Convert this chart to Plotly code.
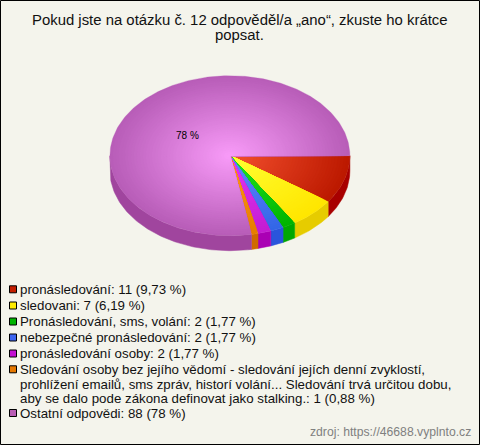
import math
import plotly.graph_objects as go

labels = ["pronásledování", "sledovani", "Pronásledování, sms, volání", "nebezpečné pronásledování",
          "pronásledování osoby",
          "Sledování osoby bez jejího vědomí - sledování jejích denní zvyklostí,<br>prohlížení emailů, sms zpráv, historí volání... Sledování trvá určitou dobu,<br>aby se dalo pode zákona definovat jako stalking.",
          "Ostatní odpovědi"]
values = [11, 7, 2, 2, 2, 1, 88]
percent_text = ["9,73 %", "6,19 %", "1,77 %", "1,77 %", "1,77 %", "0,88 %", "78 %"]
center_colors = ["#F5512F", "#FFFF33", "#22E622", "#6488FF", "#E639F2", "#FF9A1E", "#F99CF9"]
edge_colors = ["#BC1900", "#FFE600", "#00B400", "#3366E6", "#C31CD2", "#E67D00", "#B85DB8"]
side_colors = ["#A80000", "#E6CC00", "#00A800", "#2A55DC", "#AA00B4", "#D06A00", "#A0459E"]
swatch_colors = ["#C41E00", "#FFEB00", "#00B400", "#3C64F0", "#C30FD2", "#E67800", "#B85CB4"]
title_lines = ["Pokud jste na otázku č. 12 odpověděl/a „ano“, zkuste ho krátce", "popsat."]
source_text = "zdroj: https://46688.vyplnto.cz"

W, H = 480, 445
BG = "#F4F4EC"
CX, CY, RX, RY, DEPTH = 229.9, 155.7, 120, 80, 15
LAYERS = 40
FONT = "Liberation Sans, Arial, sans-serif"


def hex2rgb(c):
    return tuple(int(c[i:i + 2], 16) for i in (1, 3, 5))


def mix(a, b, t):
    ca, cb = hex2rgb(a), hex2rgb(b)
    return "rgb(%d,%d,%d)" % tuple(round(x + (y - x) * t) for x, y in zip(ca, cb))


def arc(a0, a1, r=1.0, dy=0.0):
    n = max(2, int(abs(a1 - a0) / (math.pi / 180)) + 1)
    pts = [a0 + (a1 - a0) * i / n for i in range(n + 1)]
    return ([CX + RX * r * math.cos(p) for p in pts], [CY + dy + RY * r * math.sin(p) for p in pts])


fig = go.Figure()
total = sum(values)
bounds = [0.0]
for v in values:
    bounds.append(bounds[-1] + v / total * 2 * math.pi)

# side wall (only the front half of the disc is visible)
for i, v in enumerate(values):
    a0, a1 = bounds[i], min(bounds[i + 1], math.pi)
    if a0 >= math.pi:
        continue
    xt, yt = arc(a0, a1)
    xb, yb = arc(a1, a0, dy=DEPTH)
    fig.add_trace(go.Scatter(x=xt + xb + xt[:1], y=yt + yb + yt[:1], mode="lines", fill="toself",
                             fillcolor=side_colors[i], line=dict(width=0.5, color=side_colors[i]),
                             hoverinfo="skip", showlegend=False))

# top face: stacked shrinking wedges build the radial gradient
for i, v in enumerate(values):
    for k in range(LAYERS):
        r = 1 - k / LAYERS
        col = mix(center_colors[i], edge_colors[i], r)
        xa, ya = arc(bounds[i], bounds[i + 1], r=r)
        fig.add_trace(go.Scatter(x=[CX] + xa + [CX], y=[CY] + ya + [CY], mode="lines", fill="toself",
                                 fillcolor=col, line=dict(width=0.3, color=col),
                                 hoverinfo="skip", showlegend=False))

ann = []


def text(x, y, s, size=13.3, color="#111111", anchor="left"):
    ann.append(dict(x=x, y=y, xref="x", yref="y", text=s, showarrow=False, xanchor=anchor, yanchor="middle",
                    align="left", font=dict(family=FONT, size=size, color=color), xshift=0, yshift=0,
                    borderpad=0, borderwidth=0))


text(239.5, 20, title_lines[0], size=14.9, anchor="center")
text(239.5, 35, title_lines[1], size=14.9, anchor="center")
text(187.5, 135, percent_text[6], size=10, color="#000000", anchor="center")

row_y = [289.3, 305.5, 321.5, 337.5, 353.5, 369.3, 384, 398, 413]
shapes = [dict(type="rect", x0=0.5, y0=0.5, x1=W - 0.5, y1=H - 0.5, line=dict(color="#000000", width=1),
               fillcolor="rgba(0,0,0,0)", layer="above")]
row = 0
for i, lab in enumerate(labels):
    parts = lab.split("<br>")
    shapes.append(dict(type="rect", x0=9.5, x1=16.5, y0=row_y[row] - 3.5, y1=row_y[row] + 3.5,
                       fillcolor=swatch_colors[i], line=dict(color="#000000", width=1), layer="above"))
    for j, part in enumerate(parts):
        s = part
        if j == len(parts) - 1:
            s += ": %d (%s)" % (values[i], percent_text[i])
        text(20, row_y[row], s)
        row += 1

text(470.5, 432, source_text, size=12.2, color="#808080", anchor="right")

fig.update_layout(
    width=W, height=H, margin=dict(l=0, r=0, t=0, b=0, pad=0), paper_bgcolor=BG, plot_bgcolor=BG,
    showlegend=False, annotations=ann, shapes=shapes,
    xaxis=dict(range=[0, W], visible=False, fixedrange=True, domain=[0, 1]),
    yaxis=dict(range=[H, 0], visible=False, fixedrange=True, domain=[0, 1]),
)
fig.write_html("out.html", config=dict(displayModeBar=False),
               post_script="document.body.style.margin='0';document.documentElement.style.background='%s';" % BG)
